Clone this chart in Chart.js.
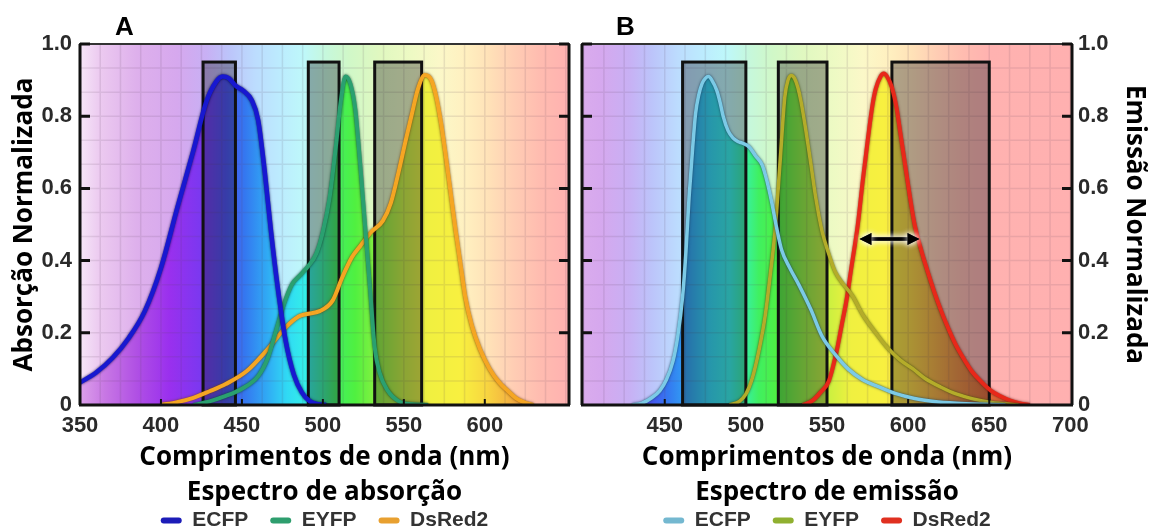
<!DOCTYPE html>
<html>
<head>
<meta charset="utf-8">
<script src="https://cdn.jsdelivr.net/npm/chart.js@4.4.1/dist/chart.umd.min.js"></script>
<style>
  body { margin: 0; background: #fff; width: 1152px; height: 530px; overflow: hidden; position: relative; }
  .panel { position: absolute; top: 0; width: 576px; height: 530px; }
  .tag { position: absolute; top: 13px; font: bold 26px/1 "Liberation Sans", Arial, sans-serif; color: #000; }
</style>
</head>
<body>
<div class="panel" style="left:0"><canvas id="chartA" width="576" height="530"></canvas></div>
<div class="panel" style="left:576px"><canvas id="chartB" width="576" height="530"></canvas></div>
<div class="tag" style="left:115px">A</div>
<div class="tag" style="left:616px">B</div>
<script>
// valores
const absTicks = [350, 400, 450, 500, 550, 600];
const emTicks = [450, 500, 550, 600, 650, 700];
const yTicks = [0, 0.2, 0.4, 0.6, 0.8, 1.0];
const proteinNames = ['ECFP', 'EYFP', 'DsRed2'];

// espectro de absorção
const ecfpAbsNm = [350, 360, 370, 380, 390, 400, 410, 420, 428, 434, 438, 442, 446, 451, 456, 460, 464, 468, 472, 477, 482, 487, 492, 497, 502];
const ecfpAbs = [0.062, 0.09, 0.13, 0.185, 0.26, 0.38, 0.545, 0.705, 0.84, 0.895, 0.91, 0.905, 0.885, 0.87, 0.845, 0.79, 0.65, 0.48, 0.33, 0.178, 0.085, 0.035, 0.01, 0.002, 0];
const eyfpAbsNm = [420, 430, 440, 450, 460, 466, 471, 476, 481, 486, 491, 496, 500, 504, 508, 511, 514, 517, 520, 523, 526, 529, 532, 535, 540, 547, 555, 565];
const eyfpAbs = [0, 0.01, 0.025, 0.045, 0.08, 0.13, 0.205, 0.28, 0.335, 0.36, 0.385, 0.42, 0.48, 0.57, 0.715, 0.84, 0.91, 0.89, 0.82, 0.67, 0.5, 0.33, 0.16, 0.09, 0.04, 0.01, 0.002, 0];
const dsredAbsNm = [400, 410, 420, 430, 440, 453, 465, 477, 485, 490, 498, 506, 512, 518, 523, 530, 537, 542, 547, 551, 555, 559, 563, 567, 570, 573, 576, 579, 582, 585, 588, 592, 597, 603, 609, 614, 619, 624, 630];
const dsredAbs = [0, 0.008, 0.02, 0.038, 0.058, 0.094, 0.15, 0.215, 0.245, 0.252, 0.26, 0.289, 0.354, 0.41, 0.44, 0.48, 0.51, 0.56, 0.65, 0.73, 0.807, 0.88, 0.914, 0.9, 0.854, 0.78, 0.687, 0.585, 0.483, 0.39, 0.298, 0.22, 0.155, 0.1, 0.062, 0.04, 0.02, 0.008, 0];

// espectro de emissão
const ecfpEmNm = [430, 436, 442, 447, 451, 455, 458, 461, 463, 465, 467, 469, 471, 473, 475, 477, 479, 482, 484, 486, 489, 492, 495, 498, 502, 506, 510, 513, 516, 519, 522, 527, 533, 540, 547, 555, 563, 572, 582, 592, 604, 616, 630, 645, 660];
const ecfpEm = [0, 0.005, 0.02, 0.04, 0.07, 0.12, 0.19, 0.3, 0.42, 0.576, 0.7, 0.807, 0.86, 0.89, 0.905, 0.91, 0.9, 0.872, 0.84, 0.8, 0.76, 0.74, 0.73, 0.725, 0.715, 0.69, 0.665, 0.62, 0.56, 0.49, 0.43, 0.38, 0.33, 0.265, 0.19, 0.14, 0.1, 0.07, 0.05, 0.032, 0.018, 0.01, 0.005, 0.002, 0];
const eyfpEmNm = [490, 496, 500, 504, 508, 512, 515, 518, 521, 524, 526, 528, 530, 532, 534, 537, 540, 543, 547, 551, 555, 560, 566, 572, 580, 587, 595, 603, 610, 620, 630, 640, 650, 660, 668];
const eyfpEm = [0, 0.01, 0.03, 0.075, 0.15, 0.25, 0.36, 0.483, 0.668, 0.853, 0.9, 0.913, 0.905, 0.88, 0.84, 0.76, 0.67, 0.576, 0.48, 0.42, 0.37, 0.335, 0.3, 0.25, 0.2, 0.16, 0.125, 0.1, 0.075, 0.05, 0.03, 0.017, 0.008, 0.003, 0];
const dsredEmNm = [535, 541, 546, 551, 556, 559, 562, 565, 569, 572, 575, 578, 580, 583, 585, 587, 590, 593, 595, 598, 601, 604, 608, 612, 616, 620, 624, 629, 634, 639, 645, 651, 657, 663, 669, 675];
const dsredEm = [0, 0.012, 0.035, 0.065, 0.15, 0.22, 0.29, 0.38, 0.5, 0.62, 0.73, 0.83, 0.875, 0.91, 0.918, 0.91, 0.88, 0.82, 0.76, 0.67, 0.58, 0.5, 0.43, 0.37, 0.315, 0.265, 0.22, 0.17, 0.13, 0.095, 0.065, 0.04, 0.024, 0.012, 0.004, 0];

// filtros (faixas em nm) e largura a meia altura do DsRed2
const absFilters = [[426, 446], [491, 510], [532, 561]];
const emFilters = [[461, 500], [520, 550], [590, 650]];
const filterTop = 0.95;
const dsredWidth = [570, 607, 0.46];

// cores do espectro visível (nm -> cor)
const paleStops = [[350,'#f6e6f8'],[362,'#eccaf0'],[385,'#deb0ec'],[410,'#d6a8ee'],[428,'#c8b0f4'],[442,'#bcc4fa'],[458,'#bcdcfe'],[474,'#bcecfe'],[488,'#bef8fa'],[502,'#c6f8dc'],[516,'#d0f8c8'],[535,'#e0f8c0'],[555,'#eefac4'],[572,'#fbf8c8'],[588,'#fff0c0'],[602,'#ffe2b8'],[618,'#ffcdb4'],[634,'#ffbcb0'],[650,'#ffb2b0'],[700,'#ffb0b0']];
const vividStops = [[350,'#dca0ea'],[365,'#c878e4'],[385,'#b050e4'],[405,'#9a30ee'],[425,'#7a38f0'],[440,'#4a50f0'],[452,'#3478f0'],[465,'#30a8f4'],[478,'#30daf4'],[490,'#34f0e8'],[500,'#38f0a0'],[508,'#40f060'],[520,'#50f040'],[535,'#90f040'],[550,'#c8f040'],[565,'#f0f040'],[585,'#f8f040'],[600,'#f8d840'],[615,'#f4b440'],[630,'#ec9040'],[650,'#e06838'],[700,'#d04030']];

const tickFont = { family: '"Liberation Sans", Arial, sans-serif', size: 22, weight: 'bold' };
const titleFont = { family: '"Open Sans", sans-serif', size: 26, weight: 'bold' };

function spectrumGradient(ctx, x, stops) {
  const first = stops[0][0], last = stops[stops.length - 1][0];
  const g = ctx.createLinearGradient(x.getPixelForValue(first), 0, x.getPixelForValue(last), 0);
  stops.forEach(([nm, c]) => g.addColorStop((nm - first) / (last - first), c));
  return g;
}

function vividFill(context) {
  const chart = context.chart;
  if (!chart.chartArea) return 'rgba(0,0,0,0)';
  return spectrumGradient(chart.ctx, chart.scales.x, vividStops);
}

const spectrumPlugin = {
  id: 'spectrum',
  beforeDraw(chart) {
    const { ctx, chartArea: a, scales: { x } } = chart;
    ctx.save();
    ctx.fillStyle = spectrumGradient(ctx, x, paleStops);
    ctx.fillRect(a.left, a.top, a.width, a.height);
    ctx.restore();
  },
  // roda depois do preenchimento (filler) e antes das linhas
  beforeDatasetsDraw(chart, args, opts) {
    const { ctx, chartArea: a, scales: { x, y } } = chart;
    ctx.save();
    ctx.strokeStyle = 'rgba(90,70,90,0.13)';
    ctx.lineWidth = 1.5;
    ctx.beginPath();
    for (let v = Math.ceil(x.min / 12.5) * 12.5; v < x.max; v += 12.5) {
      const px = x.getPixelForValue(v);
      ctx.moveTo(px, a.top); ctx.lineTo(px, a.bottom);
    }
    for (let k = 1; k < 15; k++) {
      const py = y.getPixelForValue(k / 15);
      ctx.moveTo(a.left, py); ctx.lineTo(a.right, py);
    }
    ctx.stroke();

    opts.filters.forEach(([from, to]) => {
      const l = x.getPixelForValue(from), r = x.getPixelForValue(to);
      const t = y.getPixelForValue(filterTop), b = y.getPixelForValue(0);
      ctx.fillStyle = 'rgba(20,20,30,0.34)';
      ctx.fillRect(l, t, r - l, b - t);
      ctx.strokeStyle = '#111';
      ctx.lineWidth = 3;
      ctx.strokeRect(l, t, r - l, b - t);
    });
    ctx.restore();
  },
  beforeDatasetDraw(chart, args) {
    const ds = chart.data.datasets[args.index];
    chart.ctx.save();
    chart.ctx.shadowColor = ds.outline;
    chart.ctx.shadowBlur = 2.5;
  },
  afterDatasetDraw(chart) {
    chart.ctx.restore();
  },
  afterDatasetsDraw(chart, args, opts) {
    const { ctx, chartArea: a, scales: { x, y } } = chart;
    ctx.save();
    ctx.strokeStyle = '#333';
    ctx.lineWidth = 2;
    ctx.strokeRect(a.left, a.top, a.width, a.height);
    ctx.strokeStyle = '#111';
    ctx.lineWidth = 3;
    ctx.beginPath();
    ctx.moveTo(a.left - 1, a.bottom); ctx.lineTo(a.right + 1, a.bottom);
    ctx.moveTo(a.left, a.top); ctx.lineTo(a.left, a.bottom);
    ctx.moveTo(a.right, a.top); ctx.lineTo(a.right, a.bottom);
    yTicks.forEach(v => {
      if (v === 0) return;
      const py = y.getPixelForValue(v);
      ctx.moveTo(a.left, py); ctx.lineTo(a.left + 10, py);
      ctx.moveTo(a.right, py); ctx.lineTo(a.right - 10, py);
    });
    ctx.stroke();
    ctx.lineWidth = 2;
    ctx.beginPath();
    opts.xTicks.forEach(v => {
      const px = x.getPixelForValue(v);
      if (px <= a.left + 2 || px >= a.right - 2) return;
      ctx.moveTo(px, a.bottom); ctx.lineTo(px, a.bottom - 6);
    });
    ctx.stroke();

    if (opts.arrow) {
      const [from, to, at] = opts.arrow;
      const l = x.getPixelForValue(from), r = x.getPixelForValue(to), py = y.getPixelForValue(at);
      const head = 12, half = 6;
      ctx.shadowColor = '#fff';
      ctx.shadowBlur = 6;
      for (let pass = 0; pass < 2; pass++) {
        ctx.strokeStyle = '#000';
        ctx.fillStyle = '#000';
        ctx.lineWidth = 3.5;
        ctx.beginPath();
        ctx.moveTo(l + head - 2, py); ctx.lineTo(r - head + 2, py);
        ctx.stroke();
        ctx.beginPath();
        ctx.moveTo(l, py); ctx.lineTo(l + head, py - half); ctx.lineTo(l + head, py + half); ctx.closePath();
        ctx.moveTo(r, py); ctx.lineTo(r - head, py - half); ctx.lineTo(r - head, py + half); ctx.closePath();
        ctx.fill();
      }
    }
    ctx.restore();
  }
};

function makePanel(id, p) {
  return new Chart(document.getElementById(id), {
    type: 'line',
    data: {
      datasets: p.series.map((s, i) => ({
        label: proteinNames[i],
        data: s.nm.map((v, k) => ({ x: v, y: s.val[k] })),
        borderColor: s.color,
        outline: s.outline,
        borderWidth: s.width,
        backgroundColor: vividFill,
        fill: 'origin',
        pointRadius: 0,
        cubicInterpolationMode: 'monotone'
      }))
    },
    options: {
      responsive: false,
      animation: false,
      devicePixelRatio: 1,
      layout: { padding: p.padding },
      plugins: {
        filler: { drawTime: 'beforeDatasetsDraw' },
        tooltip: { enabled: false },
        title: { display: false },
        legend: {
          position: 'bottom',
          fullSize: false,
          maxHeight: 42,
          labels: {
            font: { family: '"Liberation Sans", Arial, sans-serif', size: 21, weight: 'bold' },
            color: '#333',
            boxWidth: 21,
            boxHeight: 6,
            padding: 22,
            useBorderRadius: true,
            borderRadius: 3,
            generateLabels: chart => chart.data.datasets.map((ds, i) => ({
              text: ds.label, fillStyle: p.legendColors[i], strokeStyle: p.legendColors[i],
              lineWidth: 0, hidden: false, datasetIndex: i, borderRadius: 3, fontColor: '#333'
            }))
          }
        },
        spectrum: { filters: p.filters, arrow: p.arrow, xTicks: p.xTicks }
      },
      scales: {
        x: {
          type: 'linear',
          min: p.xMin,
          max: p.xMax,
          grid: { display: false, drawTicks: false },
          border: { display: false },
          afterBuildTicks: s => { s.ticks = p.xTicks.map(v => ({ value: v })); },
          afterFit: s => { s.height = 83; },
          ticks: { font: tickFont, color: '#2a2a2a', padding: 8, maxRotation: 0, autoSkip: false },
          title: {
            display: true,
            text: ['Comprimentos de onda (nm)', p.spectrumTitle],
            font: Object.assign({}, titleFont, { lineHeight: 1.35 }),
            color: '#000',
            padding: { top: 0, bottom: -22.5 }
          }
        },
        y: {
          position: p.yPosition,
          min: 0,
          max: 1,
          grid: { display: false, drawTicks: false },
          border: { display: false },
          afterBuildTicks: s => { s.ticks = yTicks.map(v => ({ value: v })); },
          afterFit: s => { s.width = 80; },
          ticks: { font: tickFont, color: '#2a2a2a', padding: p.yPad, callback: v => v === 0 ? '0' : v.toFixed(1) },
          title: { display: true, text: p.yTitle, font: titleFont, color: '#000', padding: { top: p.yTitlePad, bottom: 0 } }
        }
      }
    },
    plugins: [spectrumPlugin]
  });
}

makePanel('chartA', {
  xMin: 350, xMax: 652, xTicks: absTicks,
  yPosition: 'left', yPad: 8, yTitle: 'Absorção Normalizada', yTitlePad: 9,
  spectrumTitle: 'Espectro de absorção',
  padding: { left: 0, right: 7, top: 44, bottom: 0 },
  filters: absFilters, arrow: null,
  legendColors: ['#1c1cb8', '#2e9e6e', '#e8a030'],
  series: [
    { nm: ecfpAbsNm, val: ecfpAbs, color: '#1818d0', outline: 'rgba(0,0,70,0.9)', width: 4.5 },
    { nm: eyfpAbsNm, val: eyfpAbs, color: '#2aa070', outline: 'rgba(10,60,40,0.9)', width: 4 },
    { nm: dsredAbsNm, val: dsredAbs, color: '#f5a623', outline: 'rgba(110,60,0,0.9)', width: 4 }
  ]
});

makePanel('chartB', {
  xMin: 399, xMax: 701, xTicks: emTicks,
  yPosition: 'right', yPad: 6, yTitle: 'Emissão Normalizada', yTitlePad: 2,
  spectrumTitle: 'Espectro de emissão',
  padding: { left: 6, right: 0, top: 44, bottom: 0 },
  filters: emFilters, arrow: dsredWidth,
  legendColors: ['#74b8d0', '#90b030', '#e03020'],
  series: [
    { nm: ecfpEmNm, val: ecfpEm, color: '#7ccae6', outline: 'rgba(20,60,90,0.9)', width: 3.5 },
    { nm: eyfpEmNm, val: eyfpEm, color: '#b4ac2a', outline: 'rgba(60,70,10,0.9)', width: 3.5 },
    { nm: dsredEmNm, val: dsredEm, color: '#e8281a', outline: 'rgba(90,10,0,0.8)', width: 4 }
  ]
});
</script>
</body>
</html>
